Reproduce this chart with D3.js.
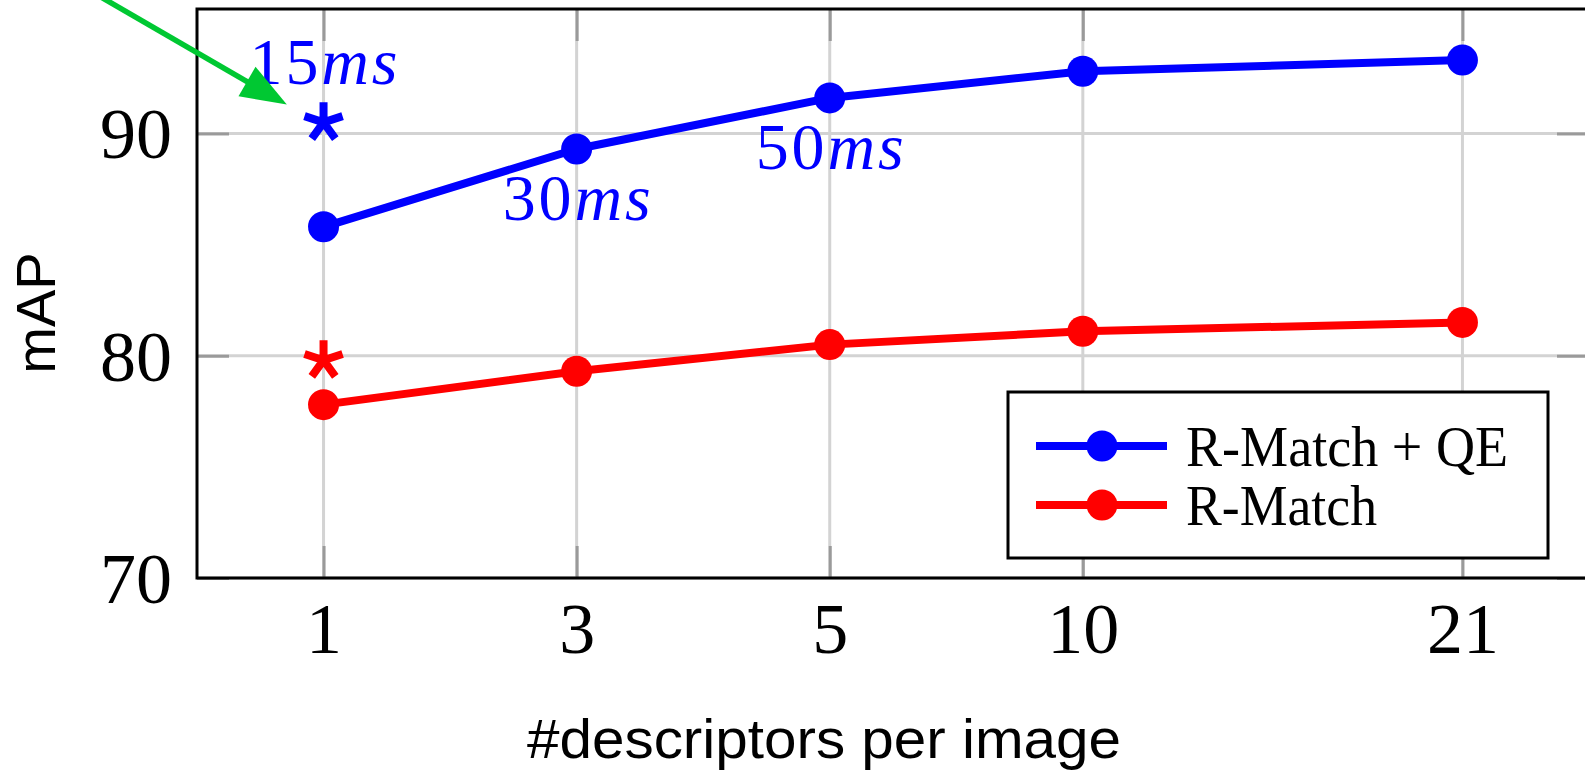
<!DOCTYPE html>
<html>
<head>
<meta charset="utf-8">
<script src="https://cdn.jsdelivr.net/npm/d3@7"></script>
<style>
  body { margin: 0; background: #fff; }
  svg { display: block; }
</style>
</head>
<body>
<svg id="chart" width="1585" height="770"></svg>
<script>
// descriptors per image, and where pgfplots put them on the x axis
var XTICKS = ['1', '3', '5', '10', '21'];
var XPOS = [0, 1, 2, 3, 4.5];
var YTICKS = [70, 80, 90];

var SERIES = [
  ['R-Match + QE', '#0000ff', [85.8, 89.3, 91.6, 92.8, 93.3]],
  ['R-Match', '#ff0000', [77.8, 79.3, 80.5, 81.1, 81.5]]
];

// single star marks at 1 descriptor
var STARS = [
  [0, 90.5, '#0000ff'],
  [0, 79.8, '#ff0000']
];

// timing labels: x pos, y value, text, above/below
var TIMINGS = [
  [0, 90.5, '15', 'above'],
  [1, 89.3, '30', 'below'],
  [2, 91.6, '50', 'below']
];

// green arrow, data coords [x0, y0, x1, y1]
var ARROW = [-0.98, 96.8, -0.145, 91.3];

var svg = d3.select('#chart');
var L = 197, R = 1589, T = 9, B = 578;

var x = d3.scaleLinear().domain([-0.5, 5]).range([L, R]);
var y = d3.scaleLinear().domain([70, 95.6]).range([B, T]);

// grid
var grid = svg.append('g');
grid.selectAll('.vg').data(XPOS).enter().append('line')
  .attr('x1', function(d) { return x(d); }).attr('x2', function(d) { return x(d); })
  .attr('y1', T).attr('y2', B)
  .attr('stroke', '#d3d3d3').attr('stroke-width', 3);
grid.selectAll('.hg').data(YTICKS).enter().append('line')
  .attr('x1', L).attr('x2', R)
  .attr('y1', function(d) { return y(d); }).attr('y2', function(d) { return y(d); })
  .attr('stroke', '#d3d3d3').attr('stroke-width', 3);

// inner ticks on all four sides
var styleAxis = function(g) {
  g.select('.domain').remove();
  g.selectAll('.tick line').attr('stroke', '#9a9a9a').attr('stroke-width', 3);
};
var xAxisB = d3.axisBottom(x).tickValues(XPOS).tickSize(-32)
  .tickFormat(function(d, i) { return XTICKS[i]; });
svg.append('g').attr('transform', 'translate(0,' + B + ')').call(xAxisB).call(styleAxis)
  .selectAll('text')
  .attr('y', 75).attr('dy', 0)
  .attr('font-family', 'Liberation Serif').attr('font-size', 72).attr('fill', '#000');
svg.append('g').attr('transform', 'translate(0,' + T + ')')
  .call(d3.axisTop(x).tickValues(XPOS).tickSize(-32).tickFormat(''))
  .call(styleAxis);
svg.append('g').attr('transform', 'translate(' + L + ',0)')
  .call(d3.axisLeft(y).tickValues(YTICKS).tickSize(-32))
  .call(styleAxis)
  .selectAll('text')
  .attr('x', -25).attr('dy', '0.34em')
  .attr('font-family', 'Liberation Serif').attr('font-size', 72).attr('fill', '#000');
svg.append('g').attr('transform', 'translate(' + R + ',0)')
  .call(d3.axisRight(y).tickValues(YTICKS).tickSize(-32).tickFormat(''))
  .call(styleAxis);

// frame
svg.append('rect').attr('x', L).attr('y', T).attr('width', R - L).attr('height', B - T)
  .attr('fill', 'none').attr('stroke', '#000').attr('stroke-width', 3);

// series
var line = d3.line()
  .x(function(d, i) { return x(XPOS[i]); })
  .y(function(d) { return y(d); });

SERIES.forEach(function(s) {
  svg.append('path').datum(s[2])
    .attr('d', line)
    .attr('fill', 'none').attr('stroke', s[1]).attr('stroke-width', 8)
    .attr('stroke-linejoin', 'round');
  svg.selectAll(null).data(s[2]).enter().append('circle')
    .attr('cx', function(d, i) { return x(XPOS[i]); })
    .attr('cy', function(d) { return y(d); })
    .attr('r', 15.5)
    .attr('fill', s[1]);
});

// five armed stars
var starPath = function(r) {
  var p = '';
  for (var k = 0; k < 5; k++) {
    var a = -Math.PI / 2 + k * 2 * Math.PI / 5;
    p += 'M0,0L' + (r * Math.cos(a)).toFixed(2) + ',' + (r * Math.sin(a)).toFixed(2);
  }
  return p;
};
svg.selectAll('.star').data(STARS).enter().append('path')
  .attr('transform', function(d) { return 'translate(' + x(d[0]) + ',' + y(d[1]) + ')'; })
  .attr('d', starPath(20))
  .attr('stroke', function(d) { return d[2]; })
  .attr('stroke-width', 8)
  .attr('fill', 'none');

// timing labels
var tl = svg.selectAll('.timing').data(TIMINGS).enter().append('text')
  .attr('x', function(d) { return x(d[0]); })
  .attr('y', function(d) { return y(d[1]) + (d[3] == 'above' ? -38 : 71); })
  .attr('text-anchor', 'middle')
  .attr('font-family', 'Liberation Serif')
  .attr('font-size', 66)
  .attr('textLength', 148).attr('lengthAdjust', 'spacing')
  .attr('fill', '#0000ff');
tl.append('tspan').text(function(d) { return d[2]; });
tl.append('tspan').attr('font-style', 'italic').text('ms');

// arrow
var ax0 = x(ARROW[0]), ay0 = y(ARROW[1]), ax1 = x(ARROW[2]), ay1 = y(ARROW[3]);
var ang = Math.atan2(ay1 - ay0, ax1 - ax0);
var headLen = 46, headHalf = 17;
var bx = ax1 - headLen * Math.cos(ang), by = ay1 - headLen * Math.sin(ang);
svg.append('line')
  .attr('x1', ax0).attr('y1', ay0).attr('x2', bx + 4 * Math.cos(ang)).attr('y2', by + 4 * Math.sin(ang))
  .attr('stroke', '#00c832').attr('stroke-width', 5.5);
svg.append('polygon')
  .attr('points', [
    [ax1, ay1],
    [bx + headHalf * Math.sin(ang), by - headHalf * Math.cos(ang)],
    [bx - headHalf * Math.sin(ang), by + headHalf * Math.cos(ang)]
  ].map(function(p) { return p.join(','); }).join(' '))
  .attr('fill', '#00c832');

// legend
var lg = svg.append('g');
lg.append('rect').attr('x', 1008).attr('y', 392).attr('width', 540).attr('height', 166)
  .attr('fill', '#fff').attr('stroke', '#000').attr('stroke-width', 3);
var entry = lg.selectAll('.entry').data(SERIES).enter().append('g')
  .attr('transform', function(d, i) { return 'translate(0,' + (446 + i * 59) + ')'; });
entry.append('line').attr('x1', 1036).attr('x2', 1167).attr('y1', 0).attr('y2', 0)
  .attr('stroke', function(d) { return d[1]; }).attr('stroke-width', 8);
entry.append('circle').attr('cx', 1102).attr('cy', 0).attr('r', 15.5)
  .attr('fill', function(d) { return d[1]; });
entry.append('text').attr('x', 1186).attr('y', 20)
  .attr('font-family', 'Liberation Serif').attr('font-size', 58)
  .attr('textLength', function(d) { return d[0].length > 8 ? 322 : 191; })
  .attr('lengthAdjust', 'spacingAndGlyphs')
  .text(function(d) { return d[0]; });

// axis titles
svg.append('text')
  .attr('transform', 'translate(55,313) rotate(-90)')
  .attr('text-anchor', 'middle')
  .attr('font-family', 'Liberation Sans').attr('font-size', 56)
  .text('mAP');
svg.append('text')
  .attr('x', 824).attr('y', 758)
  .attr('text-anchor', 'middle')
  .attr('font-family', 'Liberation Sans').attr('font-size', 56)
  .attr('textLength', 594).attr('lengthAdjust', 'spacingAndGlyphs')
  .text('#descriptors per image');
</script>
</body>
</html>
